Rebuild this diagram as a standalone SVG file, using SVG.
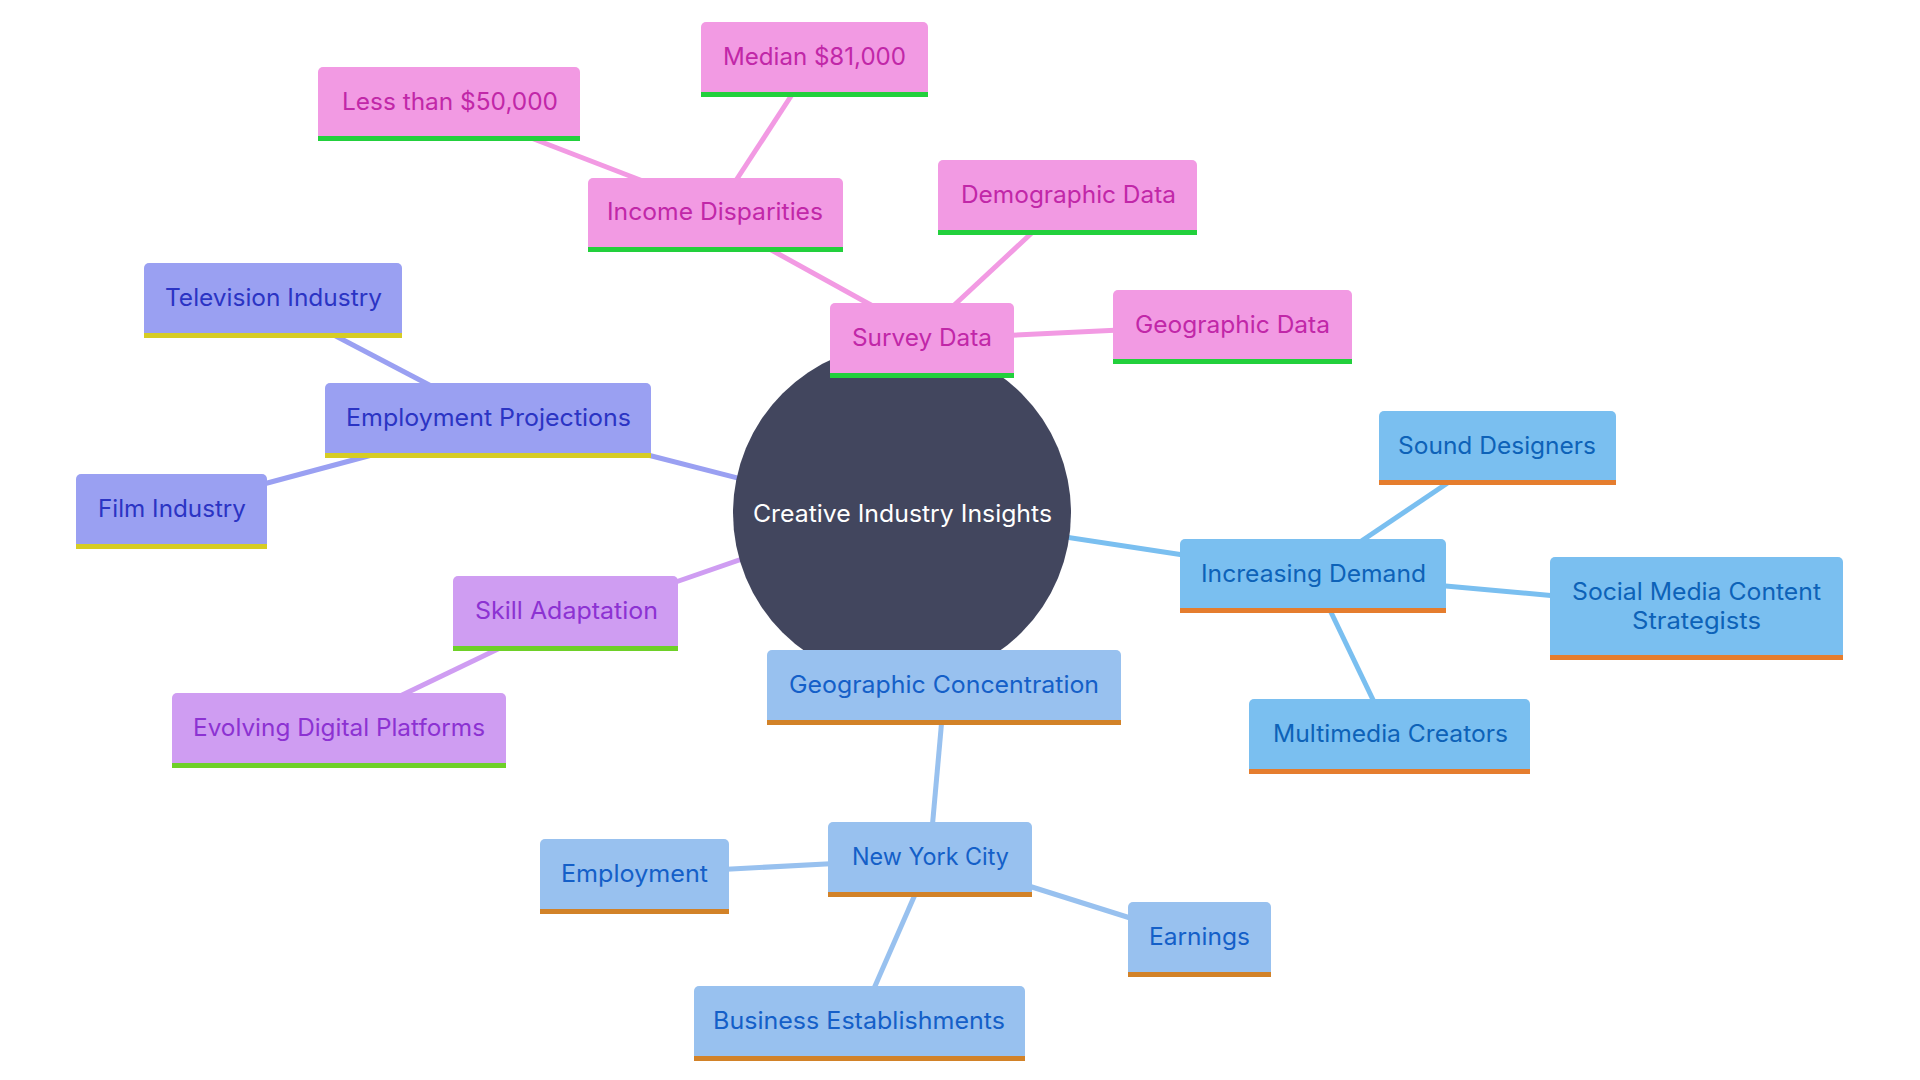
<svg xmlns="http://www.w3.org/2000/svg" width="1920" height="1080" viewBox="0 0 1920 1080">
<style>
text{font-family:Inter,"Noto Sans","Liberation Sans",sans-serif;font-size:24px;}
.e{stroke-width:5;fill:none;stroke-linecap:butt}
.ep{stroke:#F29AE3}.ei{stroke:#9AA0F2}.eb{stroke:#7ABFF0}.eg{stroke:#98C1EF}.ev{stroke:#CF9DF2}
.pk .b{fill:#F29AE3}.pk .bar{fill:#22D03C}.pk text{fill:#C127A8}
.in .b{fill:#9AA0F2}.in .bar{fill:#D6CC24}.in text{fill:#2B34C4}
.lb .b{fill:#7ABFF0}.lb .bar{fill:#E57D2E}.lb text{fill:#0D62B8}
.gb .b{fill:#98C1EF}.gb .bar{fill:#D28228}.gb text{fill:#145FC8}
.pu .b{fill:#CF9DF2}.pu .bar{fill:#6ED028}.pu text{fill:#8C32D2}
</style>
<rect width="1920" height="1080" fill="#ffffff"/>
<g id="connectors">
<line class="e ep" x1="902" y1="513" x2="922" y2="340"/>
<line class="e ep" x1="765" y1="246.5" x2="880" y2="310"/>
<line class="e ep" x1="526" y1="136" x2="648" y2="183"/>
<line class="e ep" x1="795" y1="90" x2="733" y2="185"/>
<line class="e ep" x1="1036" y1="229" x2="950" y2="309"/>
<line class="e ep" x1="1005" y1="335.5" x2="1120" y2="330"/>
<line class="e ei" x1="640" y1="453" x2="800" y2="494"/>
<line class="e ei" x1="330" y1="333" x2="435" y2="388"/>
<line class="e ei" x1="258" y1="485.5" x2="370" y2="455.5"/>
<line class="e ev" x1="670" y1="584" x2="800" y2="539"/>
<line class="e ev" x1="500" y1="648" x2="398" y2="697"/>
<line class="e eb" x1="1000" y1="527" x2="1190" y2="556"/>
<line class="e eb" x1="1357" y1="544" x2="1452" y2="480"/>
<line class="e eb" x1="1440" y1="585.5" x2="1556" y2="596"/>
<line class="e eb" x1="1328" y1="606" x2="1376" y2="706"/>
<line class="e eg" x1="902" y1="513" x2="944" y2="687"/>
<line class="e eg" x1="942" y1="718" x2="932" y2="830"/>
<line class="e eg" x1="722" y1="869.5" x2="835" y2="863.5"/>
<line class="e eg" x1="1024" y1="884.5" x2="1135" y2="919.5"/>
<line class="e eg" x1="917" y1="890" x2="872" y2="993"/>
</g>
<g id="root">
<circle cx="902" cy="513" r="169" fill="#42465E"/>
<text x="753" y="522" fill="#ffffff" textLength="299" lengthAdjust="spacingAndGlyphs">Creative Industry Insights</text>
</g>
<g id="n-less" class="pk"><path class="b" d="M318,141V72a5,5 0 0 1 5-5H575a5,5 0 0 1 5,5V141Z"/><rect class="bar" x="318" y="136" width="262" height="5"/><text x="342" y="110" textLength="216" lengthAdjust="spacingAndGlyphs">Less than $50,000</text></g>
<g id="n-median" class="pk"><path class="b" d="M701,97V27a5,5 0 0 1 5-5H923a5,5 0 0 1 5,5V97Z"/><rect class="bar" x="701" y="92" width="227" height="5"/><text x="723" y="65" textLength="183" lengthAdjust="spacingAndGlyphs">Median $81,000</text></g>
<g id="n-income" class="pk"><path class="b" d="M588,252V183a5,5 0 0 1 5-5H838a5,5 0 0 1 5,5V252Z"/><rect class="bar" x="588" y="247" width="255" height="5"/><text x="607" y="220" textLength="216" lengthAdjust="spacingAndGlyphs">Income Disparities</text></g>
<g id="n-demo" class="pk"><path class="b" d="M938,235V165a5,5 0 0 1 5-5H1192a5,5 0 0 1 5,5V235Z"/><rect class="bar" x="938" y="230" width="259" height="5"/><text x="961" y="203" textLength="215" lengthAdjust="spacingAndGlyphs">Demographic Data</text></g>
<g id="n-survey" class="pk"><path class="b" d="M830,378V308a5,5 0 0 1 5-5H1009a5,5 0 0 1 5,5V378Z"/><rect class="bar" x="830" y="373" width="184" height="5"/><text x="852" y="346" textLength="140" lengthAdjust="spacingAndGlyphs">Survey Data</text></g>
<g id="n-geodata" class="pk"><path class="b" d="M1113,364V295a5,5 0 0 1 5-5H1347a5,5 0 0 1 5,5V364Z"/><rect class="bar" x="1113" y="359" width="239" height="5"/><text x="1135" y="333" textLength="195" lengthAdjust="spacingAndGlyphs">Geographic Data</text></g>
<g id="n-tv" class="in"><path class="b" d="M144,338V268a5,5 0 0 1 5-5H397a5,5 0 0 1 5,5V338Z"/><rect class="bar" x="144" y="333" width="258" height="5"/><text x="165" y="306" textLength="217" lengthAdjust="spacingAndGlyphs">Television Industry</text></g>
<g id="n-emproj" class="in"><path class="b" d="M325,458V388a5,5 0 0 1 5-5H646a5,5 0 0 1 5,5V458Z"/><rect class="bar" x="325" y="453" width="326" height="5"/><text x="346" y="426" textLength="285" lengthAdjust="spacingAndGlyphs">Employment Projections</text></g>
<g id="n-film" class="in"><path class="b" d="M76,549V479a5,5 0 0 1 5-5H262a5,5 0 0 1 5,5V549Z"/><rect class="bar" x="76" y="544" width="191" height="5"/><text x="98" y="517" textLength="148" lengthAdjust="spacingAndGlyphs">Film Industry</text></g>
<g id="n-sound" class="lb"><path class="b" d="M1379,485V416a5,5 0 0 1 5-5H1611a5,5 0 0 1 5,5V485Z"/><rect class="bar" x="1379" y="480" width="237" height="5"/><text x="1398" y="454" textLength="198" lengthAdjust="spacingAndGlyphs">Sound Designers</text></g>
<g id="n-demand" class="lb"><path class="b" d="M1180,613V544a5,5 0 0 1 5-5H1441a5,5 0 0 1 5,5V613Z"/><rect class="bar" x="1180" y="608" width="266" height="5"/><text x="1201" y="582" textLength="225" lengthAdjust="spacingAndGlyphs">Increasing Demand</text></g>
<g id="n-social" class="lb"><path class="b" d="M1550,660V562a5,5 0 0 1 5-5H1838a5,5 0 0 1 5,5V660Z"/><rect class="bar" x="1550" y="655" width="293" height="5"/><text x="1572" y="600" textLength="249" lengthAdjust="spacingAndGlyphs">Social Media Content</text><text x="1632" y="629" textLength="129" lengthAdjust="spacingAndGlyphs">Strategists</text></g>
<g id="n-multi" class="lb"><path class="b" d="M1249,774V704a5,5 0 0 1 5-5H1525a5,5 0 0 1 5,5V774Z"/><rect class="bar" x="1249" y="769" width="281" height="5"/><text x="1273" y="742" textLength="235" lengthAdjust="spacingAndGlyphs">Multimedia Creators</text></g>
<g id="n-skill" class="pu"><path class="b" d="M453,651V581a5,5 0 0 1 5-5H673a5,5 0 0 1 5,5V651Z"/><rect class="bar" x="453" y="646" width="225" height="5"/><text x="475" y="619" textLength="183" lengthAdjust="spacingAndGlyphs">Skill Adaptation</text></g>
<g id="n-evolve" class="pu"><path class="b" d="M172,768V698a5,5 0 0 1 5-5H501a5,5 0 0 1 5,5V768Z"/><rect class="bar" x="172" y="763" width="334" height="5"/><text x="193" y="736" textLength="292" lengthAdjust="spacingAndGlyphs">Evolving Digital Platforms</text></g>
<g id="n-geoconc" class="gb"><path class="b" d="M767,725V655a5,5 0 0 1 5-5H1116a5,5 0 0 1 5,5V725Z"/><rect class="bar" x="767" y="720" width="354" height="5"/><text x="789" y="693" textLength="310" lengthAdjust="spacingAndGlyphs">Geographic Concentration</text></g>
<g id="n-nyc" class="gb"><path class="b" d="M828,897V827a5,5 0 0 1 5-5H1027a5,5 0 0 1 5,5V897Z"/><rect class="bar" x="828" y="892" width="204" height="5"/><text x="852" y="865" textLength="157" lengthAdjust="spacingAndGlyphs">New York City</text></g>
<g id="n-employ" class="gb"><path class="b" d="M540,914V844a5,5 0 0 1 5-5H724a5,5 0 0 1 5,5V914Z"/><rect class="bar" x="540" y="909" width="189" height="5"/><text x="561" y="882" textLength="147" lengthAdjust="spacingAndGlyphs">Employment</text></g>
<g id="n-earn" class="gb"><path class="b" d="M1128,977V907a5,5 0 0 1 5-5H1266a5,5 0 0 1 5,5V977Z"/><rect class="bar" x="1128" y="972" width="143" height="5"/><text x="1149" y="945" textLength="101" lengthAdjust="spacingAndGlyphs">Earnings</text></g>
<g id="n-biz" class="gb"><path class="b" d="M694,1061V991a5,5 0 0 1 5-5H1020a5,5 0 0 1 5,5V1061Z"/><rect class="bar" x="694" y="1056" width="331" height="5"/><text x="713" y="1029" textLength="292" lengthAdjust="spacingAndGlyphs">Business Establishments</text></g>
</svg>
